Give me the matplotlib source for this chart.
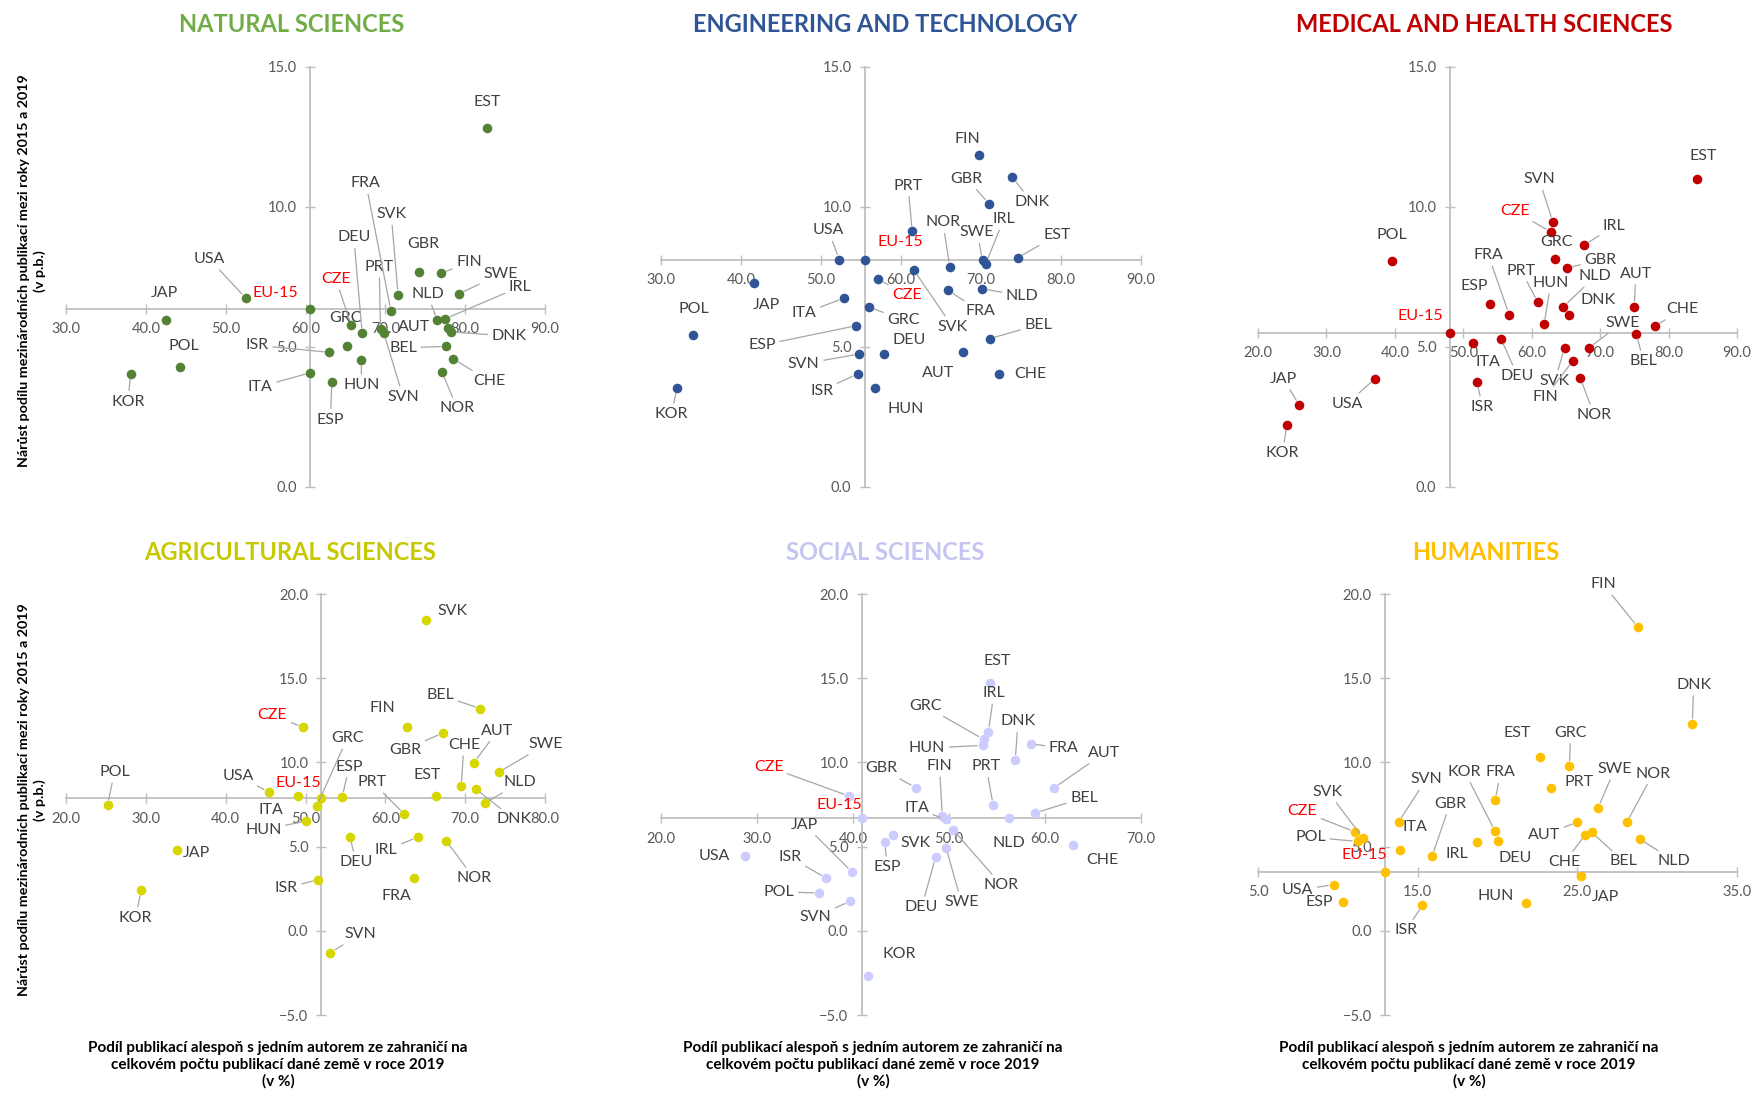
import numpy as np
import matplotlib.pyplot as plt

plt.rcParams['font.family'] = ['Lato', 'DejaVu Sans']

countries = ["USA", "JAP", "KOR", "POL", "ITA", "ESP", "ISR", "GRC", "CZE", "DEU",
             "HUN", "PRT", "FRA", "SVK", "SVN", "GBR", "FIN", "SWE", "NLD", "AUT",
             "IRL", "DNK", "BEL", "CHE", "NOR", "EST", "EU-15"]

# podil publikaci se zahranicnim autorem 2019 (x) a narust podilu 2015-2019 (y)
ns_x = [52.5, 42.5, 38.1, 44.3, 60.6, 63.3, 63.0, 65.2, 65.7, 67.1, 67.0, 69.4, 70.7, 71.6,
        69.8, 74.2, 77.0, 79.2, 76.5, 77.8, 77.5, 78.2, 77.6, 78.5, 77.1, 82.7, 60.6]
ns_y = [6.75, 5.98, 4.04, 4.30, 4.08, 3.75, 4.81, 5.03, 5.80, 5.49, 4.53, 5.63, 6.29, 6.87,
        5.50, 7.68, 7.63, 6.90, 5.95, 5.68, 6.01, 5.54, 5.02, 4.58, 4.10, 12.82, 6.37]

et_x = [52.3, 41.6, 32.0, 34.05, 52.9, 54.4, 54.6, 56.0, 57.1, 57.9, 56.8, 61.4, 65.9, 61.6,
        54.8, 71.0, 69.8, 70.2, 70.1, 67.8, 70.6, 73.9, 71.1, 72.3, 66.1, 74.6, 55.45]
et_y = [8.12, 7.29, 3.54, 5.42, 6.75, 5.76, 4.04, 6.42, 7.42, 4.75, 3.54, 9.13, 7.02, 7.75,
        4.75, 10.12, 11.85, 8.10, 7.08, 4.81, 7.98, 11.07, 5.30, 4.05, 7.86, 8.19, 8.10]

mh_x = [37.1, 26.0, 24.2, 39.6, 51.4, 53.9, 52.0, 63.4, 62.8, 55.5, 61.8, 60.9, 56.7, 64.8,
        63.1, 65.2, 66.0, 68.4, 64.6, 75.0, 67.6, 65.5, 75.3, 78.0, 67.1, 84.1, 48.0]
mh_y = [3.87, 2.92, 2.20, 8.06, 5.15, 6.55, 3.75, 8.15, 9.11, 5.30, 5.81, 6.59, 6.16, 4.98,
        9.46, 7.82, 4.50, 4.98, 6.43, 6.43, 8.63, 6.14, 5.48, 5.75, 3.90, 11.01, 5.50]

ag_x = [45.4, 33.9, 29.4, 25.2, 49.0, 54.6, 51.6, 51.4, 49.7, 55.6, 50.1, 62.4, 63.6, 65.1,
        53.1, 67.2, 62.75, 74.2, 72.5, 71.1, 64.1, 71.3, 71.9, 69.5, 67.6, 66.4, 52.0]
ag_y = [8.23, 4.80, 2.40, 7.46, 8.02, 7.94, 3.04, 7.40, 12.08, 5.56, 6.51, 6.92, 3.15, 18.47,
        -1.29, 11.75, 12.08, 9.42, 7.58, 9.98, 5.56, 8.43, 13.19, 8.57, 5.36, 8.02, 7.86]

ss_x = [28.7, 39.9, 41.6, 36.5, 49.65, 43.3, 37.2, 53.6, 39.6, 48.6, 53.5, 54.6, 58.5, 44.2,
        39.7, 46.55, 49.3, 49.7, 56.2, 60.95, 54.1, 56.9, 59.0, 62.96, 50.4, 54.3, 40.9]
ss_y = [4.42, 3.49, -2.68, 2.24, 6.61, 5.26, 3.13, 11.37, 8.0, 4.37, 11.01, 7.46, 11.1, 5.71,
        1.75, 8.49, 6.81, 4.92, 6.67, 8.49, 11.81, 10.13, 7.0, 5.09, 6.01, 14.70, 6.67]

hu_x = [9.74, 25.2, 19.85, 11.24, 13.9, 10.34, 15.3, 24.5, 11.08, 20.0, 21.8, 23.35, 19.85, 11.56,
        13.8, 15.9, 28.8, 26.3, 28.9, 25.0, 18.7, 32.2, 25.9, 25.5, 28.1, 22.65, 12.95]
hu_y = [2.74, 3.23, 5.91, 5.31, 4.82, 1.71, 1.51, 9.78, 5.87, 5.32, 1.65, 8.49, 7.76, 5.53,
        6.45, 4.42, 18.02, 7.30, 5.46, 6.45, 5.30, 12.30, 5.85, 5.71, 6.45, 10.34, 3.49]

# posun popisku v bodech (dx, dy) a zda kreslit odkazovou caru
ns_lab = {"EST": (0, 19, 0), "FRA": (-18, 92, 1), "SVK": (-5, 58, 1), "DEU": (-6, 69, 1),
          "GBR": (3, 20, 0), "FIN": (20, 8, 1), "USA": (-26, 28, 1), "PRT": (-1, 45, 1),
          "CZE": (-11, 33, 1), "SWE": (30, 14, 1), "IRL": (54, 23, 1), "JAP": (-1, 19, 0),
          "EU-15": (-25, 11, 0), "NLD": (-7, 19, 1), "GRC": (-1, 20, 0), "AUT": (-24, 1, 0),
          "DNK": (42, -3, 1), "POL": (3, 15, 0), "ISR": (-52, 5, 1), "BEL": (-31, -1, 1),
          "CHE": (26, -16, 1), "ITA": (-36, -10, 1), "HUN": (0, -18, 1), "SVN": (14, -46, 1),
          "NOR": (11, -26, 1), "KOR": (-2, -20, 1), "ESP": (-1, -27, 1)}

et_lab = {"FIN": (-9, 12, 0), "DNK": (14, -18, 1), "GBR": (-16, 18, 1), "PRT": (-3, 33, 1),
          "USA": (-8, 21, 1), "EU-15": (26, 13, 0), "NOR": (-5, 32, 1), "SWE": (-4, 20, 1),
          "IRL": (13, 32, 1), "EST": (28, 16, 1), "SVK": (28, -41, 1), "CZE": (21, -11, 1),
          "FRA": (23, -15, 1), "NLD": (29, -5, 1), "ITA": (-29, -11, 1), "JAP": (9, -16, 0),
          "GRC": (25, -9, 1), "ESP": (-68, -14, 1), "POL": (0, 19, 0), "BEL": (35, 10, 1),
          "SVN": (-40, -7, 1), "DEU": (18, 10, 0), "AUT": (-18, -15, 0), "CHE": (22, 0, 0),
          "ISR": (-26, -12, 1), "HUN": (22, -15, 0), "KOR": (-4, -19, 1)}

mh_lab = {"EST": (5, 16, 0), "POL": (0, 19, 0), "SVN": (-10, 31, 1), "CZE": (-26, 15, 1),
          "IRL": (22, 14, 1), "GRC": (1, 12, 0), "GBR": (24, 6, 1), "EU-15": (-21, 12, 0),
          "USA": (-20, -18, 1), "JAP": (-11, 19, 1), "KOR": (-3, -20, 1), "ESP": (-11, 13, 0),
          "FRA": (-15, 43, 1), "PRT": (-12, 23, 1), "HUN": (5, 30, 1), "NLD": (23, 22, 1),
          "DNK": (21, 11, 0), "AUT": (1, 24, 1), "CHE": (20, 12, 1), "BEL": (5, -20, 1),
          "SWE": (24, 18, 1), "ITA": (11, -14, 0), "DEU": (12, -27, 1), "SVK": (-7, -24, 1),
          "FIN": (-20, -26, 1), "NOR": (10, -27, 1), "ISR": (4, -18, 1)}

ag_lab = {"SVK": (19, 6, 0), "BEL": (-29, 10, 1), "FIN": (-18, 14, 0), "CZE": (-22, 9, 1),
          "GBR": (-27, -12, 1), "AUT": (17, 23, 1), "SWE": (34, 20, 1), "CHE": (2, 30, 1),
          "DNK": (28, -22, 1), "NLD": (25, 15, 1), "EST": (-7, 15, 0), "PRT": (-23, 23, 1),
          "ESP": (5, 22, 1), "EU-15": (-17, 11, 0), "GRC": (22, 49, 1), "USA": (-22, 12, 1),
          "ITA": (-19, -10, 0), "HUN": (-31, -6, 1), "POL": (5, 24, 1), "JAP": (14, -2, 0),
          "KOR": (-4, -20, 1), "DEU": (4, -18, 1), "IRL": (-23, -9, 1), "NOR": (20, -27, 1),
          "FRA": (-13, -13, 0), "ISR": (-23, -6, 1), "SVN": (22, 13, 1)}

ss_lab = {"EST": (5, 16, 0), "IRL": (4, 28, 1), "GRC": (-42, 24, 1), "HUN": (-40, -2, 1),
          "GBR": (-25, 14, 1), "CZE": (-58, 21, 1), "EU-15": (-16, 10, 0), "FIN": (-2, 36, 1),
          "ITA": (-21, 8, 1), "NOR": (35, -40, 1), "SWE": (11, -39, 1), "DEU": (-10, -36, 1),
          "SVK": (16, -6, 0), "ESP": (2, -18, 1), "USA": (-22, 0, 0), "JAP": (-34, 34, 1),
          "ISR": (-26, 15, 1), "POL": (-29, 1, 1), "SVN": (-25, -11, 1), "KOR": (22, 16, 0),
          "DNK": (2, 28, 1), "FRA": (24, -3, 1), "AUT": (36, 25, 1), "PRT": (-5, 28, 1),
          "BEL": (35, 11, 1), "NLD": (0, -18, 0), "CHE": (21, -11, 0)}

hu_lab = {"FIN": (-25, 31, 1), "DNK": (1, 28, 1), "EST": (-16, 17, 0), "GRC": (1, 24, 1),
          "PRT": (20, 4, 0), "FRA": (4, 20, 1), "SWE": (12, 28, 1), "NOR": (19, 35, 1),
          "AUT": (-24, -9, 1), "CHE": (-15, -20, 1), "BEL": (23, -21, 1), "NLD": (25, -16, 1),
          "KOR": (-22, 43, 1), "DEU": (13, -12, 0), "IRL": (-14, -9, 0), "GBR": (13, 38, 1),
          "SVN": (20, 31, 1), "ITA": (11, 16, 0), "HUN": (-22, 5, 0), "JAP": (18, -15, 0),
          "CZE": (-38, 15, 1), "SVK": (-25, 33, 1), "POL": (-34, 3, 1), "EU-15": (-15, 12, 0),
          "USA": (-26, -4, 1), "ESP": (-17, 0, 0), "ISR": (-12, -18, 1)}

panels = [
    ("NATURAL SCIENCES", ns_x, ns_y, ns_lab, "#548235", "#70AD47", (30, 90), (0, 15), 10),
    ("ENGINEERING AND TECHNOLOGY", et_x, et_y, et_lab, "#2F5597", "#2F5597", (30, 90), (0, 15), 10),
    ("MEDICAL AND HEALTH SCIENCES", mh_x, mh_y, mh_lab, "#C00000", "#C00000", (20, 90), (0, 15), 10),
    ("AGRICULTURAL SCIENCES", ag_x, ag_y, ag_lab, "#D6D600", "#C8C800", (20, 80), (-5, 20), 10),
    ("SOCIAL SCIENCES", ss_x, ss_y, ss_lab, "#CCCCFF", "#C5C5F2", (20, 70), (-5, 20), 10),
    ("HUMANITIES", hu_x, hu_y, hu_lab, "#FFC000", "#FFC000", (5, 35), (-5, 20), 10),
]

W, H = 1755, 1096
fig = plt.figure(figsize=(W / 100, H / 100), dpi=100)

# plocha grafu v pixelech: levy okraj, pravy okraj, horni, dolni
rects = [(66, 545, 67, 487), (661, 1141, 67, 487), (1258, 1737, 67, 487),
         (66, 545, 594, 1015), (661, 1141, 594, 1015), (1258, 1737, 594, 1015)]
title_pos = [(292, 25), (885, 25), (1484, 25), (290, 553), (885, 553), (1486, 553)]

for i, (title, xs, ys, lab, col, tcol, xlim, ylim, step) in enumerate(panels):
    l, r, t, b = rects[i]
    ax = fig.add_axes([l / W, 1 - b / H, (r - l) / W, (b - t) / H])
    ax.patch.set_alpha(0)
    ax.set_xlim(*xlim)
    ax.set_ylim(*ylim)
    # osy se protinaji v hodnote EU-15
    ex, ey = xs[-1], ys[-1]
    for s in ["top", "right"]:
        ax.spines[s].set_visible(False)
    ax.spines["left"].set_position(("data", ex))
    ax.spines["bottom"].set_position(("data", ey))
    for s in ["left", "bottom"]:
        ax.spines[s].set_color("#BFBFBF")
        ax.spines[s].set_linewidth(1.3)
    ax.set_xticks(np.arange(xlim[0], xlim[1] + 0.1, step))
    ax.set_yticks(np.arange(ylim[0], ylim[1] + 0.1, 5))
    ax.xaxis.set_major_formatter("{x:.1f}")
    ax.yaxis.set_major_formatter("{x:.1f}")
    ax.tick_params(direction="inout", length=7, width=1, color="#BFBFBF",
                   labelcolor="#595959", labelsize=10.5, pad=6)

    ax.scatter(xs, ys, s=48, color=col, zorder=3, clip_on=False, linewidths=0)
    for c, x, y in zip(countries, xs, ys):
        dx, dy, leader = lab[c]
        tc = "#FF0000" if c in ("CZE", "EU-15") else "#404040"
        ap = dict(arrowstyle="-", color="#A6A6A6", lw=0.9, shrinkA=1, shrinkB=4) if leader else None
        ax.annotate(c, (x, y), xytext=(dx, dy), textcoords="offset points",
                    ha="center", va="center", fontsize=11.5, color=tc,
                    arrowprops=ap, annotation_clip=False, zorder=4)

    tx, ty = title_pos[i]
    fig.text(tx / W, 1 - ty / H, title, ha="center", va="center",
             fontsize=17, fontweight="bold", color=tcol)

ylab = "Nárůst podílu mezinárodních publikací mezi roky 2015 a 2019\n(v p.b.)"
for yc in (271, 800):
    fig.text(32 / W, 1 - yc / H, ylab, rotation=90, ha="center", va="center",
             fontsize=10.3, fontweight="bold", multialignment="center", linespacing=1.3)

xlab = ("Podíl publikací alespoň s jedním autorem ze zahraničí na\n"
        "celkovém počtu publikací dané země v roce 2019\n(v %)")
for xc in (278, 873, 1469):
    fig.text(xc / W, 1 - 1065 / H, xlab, ha="center", va="center",
             fontsize=11, fontweight="bold", multialignment="center", linespacing=1.25)

fig.savefig("out.png", dpi=100, facecolor="white")
